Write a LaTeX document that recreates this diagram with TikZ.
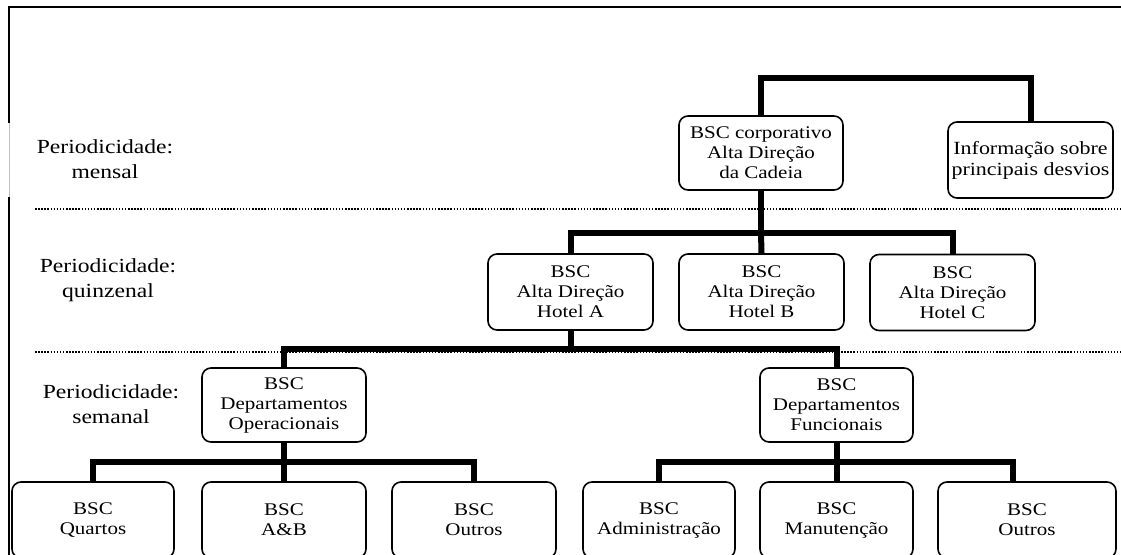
\documentclass[tikz,border=0pt]{standalone}
\usepackage{fontspec}
\setmainfont{Liberation Serif}[FakeStretch=1.18]
\newcommand\boxfont{\fontsize{17.8}{20}\selectfont}
\newcommand\infofont{\fontsize{18.6}{21}\selectfont}
\newcommand\lblfont{\fontsize{20}{25}\selectfont}
\begin{document}
\begin{tikzpicture}[x=1pt,y=-1pt,
  box/.style={draw, line width=1.6pt, rounded corners=9pt, align=center,
    inner sep=0pt, font=\boxfont},
  link/.style={line width=6pt, line join=miter},
  level/.style={line width=1.6pt, dash pattern=on 1.5pt off 1.6pt},
  lbl/.style={align=center, inner sep=0pt, font=\lblfont}]
\useasboundingbox (0,0) rectangle (1121,554);
\clip (0,0) rectangle (1121,554);

% outer frame (top and left sides)
\draw[line width=2pt] (9,123) -- (9,7) -- (1122,7);
\draw[line width=0.8pt, gray!50] (9,123) -- (9,197);
\draw[line width=2pt] (9,197) -- (9,560);

% separators between the reporting periods
\draw[level] (35,209) -- (1121,209);
\draw[level] (35,352) -- (1121,352);

% period labels
\node[lbl] (pm) at (105,159) {Periodicidade:\\mensal};
\node[lbl] (pq) at (108,280) {Periodicidade:\\quinzenal};
\node[lbl] (ps) at (111,404) {Periodicidade:\\semanal};

% chain level
\node[box, minimum width=164pt, minimum height=74pt] (corp) at (761,153)
  {BSC corporativo\\Alta Direção\\da Cadeia};
\node[box, font=\infofont, minimum width=165pt, minimum height=76pt] (info) at (1030.5,160)
  {Informação sobre\\principais desvios};

% hotel level
\node[box, minimum width=165pt, minimum height=76pt] (hA) at (570.5,292)
  {BSC\\Alta Direção\\Hotel A};
\node[box, minimum width=165pt, minimum height=76pt] (hB) at (761.5,292)
  {BSC\\Alta Direção\\Hotel B};
\node[box, minimum width=165pt, minimum height=76pt] (hC) at (952.5,292.5)
  {BSC\\Alta Direção\\Hotel C};

% department level
\node[box, minimum width=164pt, minimum height=74pt] (dOp) at (284,405)
  {BSC\\Departamentos\\Operacionais};
\node[box, minimum width=153pt, minimum height=74pt] (dFn) at (836.5,405)
  {BSC\\Departamentos\\Funcionais};

% unit level
\node[box, minimum width=162pt, minimum height=76pt] (uQ) at (93,520) {BSC\\Quartos};
\node[box, minimum width=164pt, minimum height=76pt] (uAB) at (284,520) {BSC\\A\&B};
\node[box, minimum width=164pt, minimum height=76pt] (uOL) at (474,520) {BSC\\Outros};
\node[box, minimum width=152pt, minimum height=76pt] (uAd) at (659,520) {BSC\\Administração};
\node[box, minimum width=153pt, minimum height=76pt] (uMa) at (836.5,520) {BSC\\Manutenção};
\node[box, minimum width=178pt, minimum height=76pt] (uOR) at (1027,520) {BSC\\Outros};

% junction points of the tree
\coordinate (j0) at (761,78);
\coordinate (j1) at (761,233);
\coordinate (j2) at (570.5,349);
\coordinate (j3) at (284,462);
\coordinate (j4) at (836.5,462);

% connectors
\draw[link] (corp.north) |- (j0) -| (info.north);
\draw[link] (corp.south) -- (j1);
\draw[link] (hA.north) |- (j1) -| (hC.north);
\draw[link] (j1) -- (hB.north);
\draw[link] (hA.south) -- (j2);
\draw[link] (dOp.north) |- (j2) -| (dFn.north);
\draw[link] (dOp.south) -- (j3);
\draw[link] (uQ.north) |- (j3) -| (uOL.north);
\draw[link] (j3) -- (uAB.north);
\draw[link] (dFn.south) -- (j4);
\draw[link] (uAd.north) |- (j4) -| ([xshift=-14pt]uOR.north);
\draw[link] (j4) -- (uMa.north);
\end{tikzpicture}
\end{document}
